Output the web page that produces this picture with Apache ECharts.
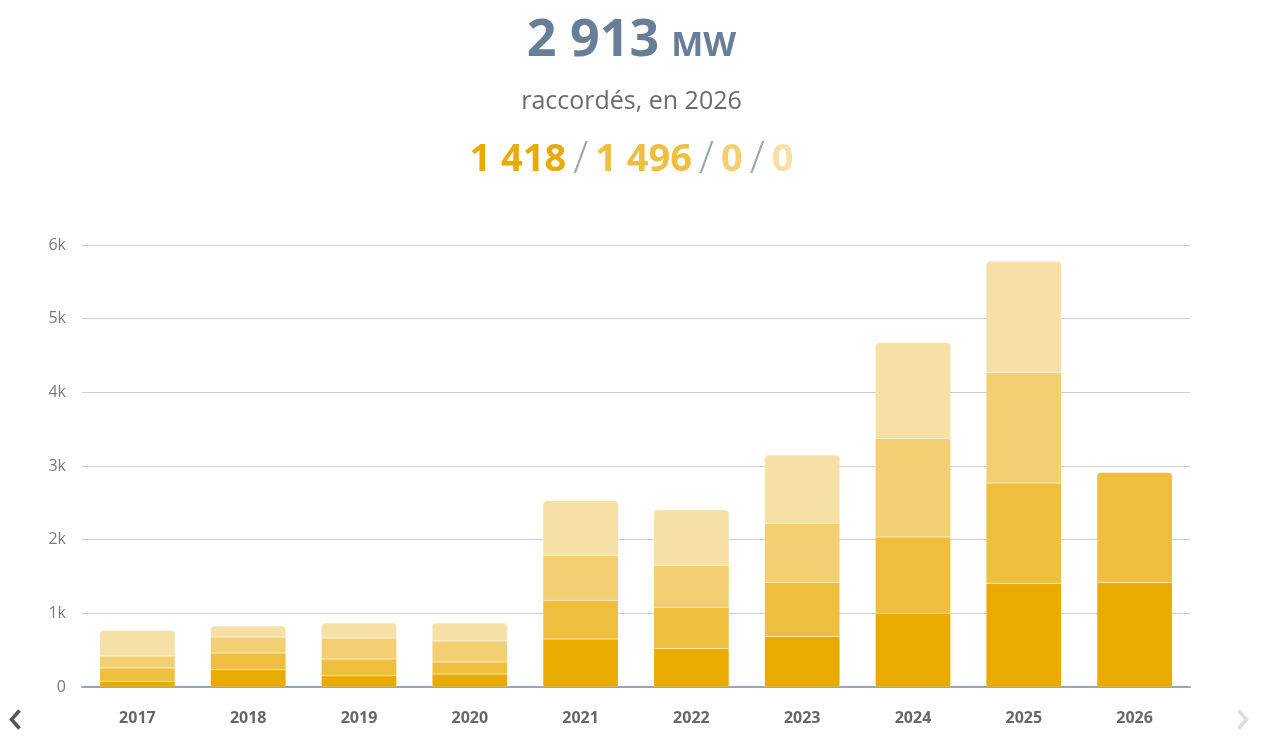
<!DOCTYPE html>
<html>
<head>
<meta charset="utf-8">
<script src="https://cdn.jsdelivr.net/npm/echarts@6/dist/echarts.min.js"></script>
<style>
html, body { margin: 0; padding: 0; background: #fff; }
#plot { width: 1263px; height: 741px; }
</style>
</head>
<body>
<div id="plot"></div>
<script>
var years = ['2017', '2018', '2019', '2020', '2021', '2022', '2023', '2024', '2025', '2026'];
var part1 = [78, 235, 153, 176, 651, 523, 686, 996, 1405, 1418];
var part2 = [180, 227, 227, 163, 526, 559, 737, 1041, 1364, 1496];
var part3 = [163, 217, 285, 285, 610, 569, 801, 1333, 1501, 0];
var part4 = [349, 149, 204, 245, 741, 754, 927, 1305, 1510, 0];
var yTicks = ['0', '1k', '2k', '3k', '4k', '5k', '6k'];

var colors = ['#E9AB00', '#EEBE3F', '#F2CF72', '#F6E0A5'];
var font = '"Open Sans", "DejaVu Sans", sans-serif';

function buildSeries () {
	var parts = [part1, part2, part3, part4];
	var series = [];
	for (var s = 0; s < parts.length; s++) {
		var data = [];
		for (var i = 0; i < years.length; i++) {
			// top segment of each stack gets rounded corners
			var isTop = true;
			for (var k = s + 1; k < parts.length; k++) {
				if (parts[k][i] > 0) isTop = false;
			}
			data.push({
				value: parts[s][i],
				itemStyle: { borderRadius: isTop ? [4, 4, 0, 0] : 0 }
			});
		}
		series.push({
			type: 'bar',
			stack: 'total',
			barWidth: '68%',
			data: data,
			itemStyle: {
				color: colors[s],
				borderColor: 'rgba(255,255,255,0.25)',
				borderWidth: 0.5
			},
			silent: true
		});
	}
	return series;
}

var option = {
	animation: false,
	textStyle: { fontFamily: font },
	title: [
		{
			left: 'center',
			top: 10,
			text: '{a|2 913}{b|MW}',
			textStyle: {
				rich: {
					a: { fontSize: 52, fontWeight: 'bold', color: '#667F97', fontFamily: font },
					b: { fontSize: 34, fontWeight: 'bold', color: '#667F97', fontFamily: font, padding: [10, 0, 0, 12] }
				}
			}
		},
		{
			left: 'center',
			top: 84,
			text: 'raccordés, en 2026',
			textStyle: { fontSize: 25, fontWeight: 'normal', color: '#6b6b6b', fontFamily: font }
		},
		{
			left: 'center',
			top: 133,
			text: '{c1|1 418}{sl|/}{c2|1 496}{sl|/}{c3|0}{sl|/}{c4|0}',
			textStyle: {
				rich: {
					c1: { fontSize: 38, fontWeight: 'bold', color: colors[0], fontFamily: font },
					c2: { fontSize: 38, fontWeight: 'bold', color: colors[1], fontFamily: font },
					c3: { fontSize: 38, fontWeight: 'bold', color: colors[2], fontFamily: font },
					c4: { fontSize: 38, fontWeight: 'bold', color: colors[3], fontFamily: font },
					sl: { fontSize: 44, fontWeight: 'lighter', color: '#9AA4AE', fontFamily: font, padding: [0, 7, 0, 7] }
				}
			}
		}
	],
	grid: {
		left: 82,
		right: 73,
		top: 245,
		bottom: 54,
		containLabel: false
	},
	xAxis: {
		type: 'category',
		data: years,
		axisTick: { show: false },
		axisLine: { lineStyle: { color: '#9AA5B1', width: 2 } },
		axisLabel: {
			margin: 23,
			fontSize: 16,
			fontWeight: 'bold',
			color: '#666',
			fontFamily: font
		}
	},
	yAxis: {
		type: 'value',
		min: 0,
		max: 6000,
		interval: 1000,
		axisLine: { show: false },
		axisTick: { show: false },
		splitLine: { lineStyle: { color: '#C8CDD5', width: 1 } },
		axisLabel: {
			margin: 16,
			fontSize: 16,
			color: '#7a7a7a',
			fontFamily: font,
			formatter: function (v) { return yTicks[Math.round(v / 1000)]; }
		}
	},
	graphic: [
		{
			type: 'polyline',
			left: 9,
			top: 708,
			shape: { points: [[8, 0], [0, 9], [8, 18]] },
			style: { stroke: '#555', lineWidth: 3.5, fill: null }
		},
		{
			type: 'polyline',
			left: 1236,
			top: 708,
			shape: { points: [[0, 0], [8, 9], [0, 18]] },
			style: { stroke: '#DDDDDD', lineWidth: 3.5, fill: null }
		}
	],
	series: buildSeries()
};

var myChart = echarts.init(document.getElementById('plot'));
myChart.setOption(option);
</script>
</body>
</html>
